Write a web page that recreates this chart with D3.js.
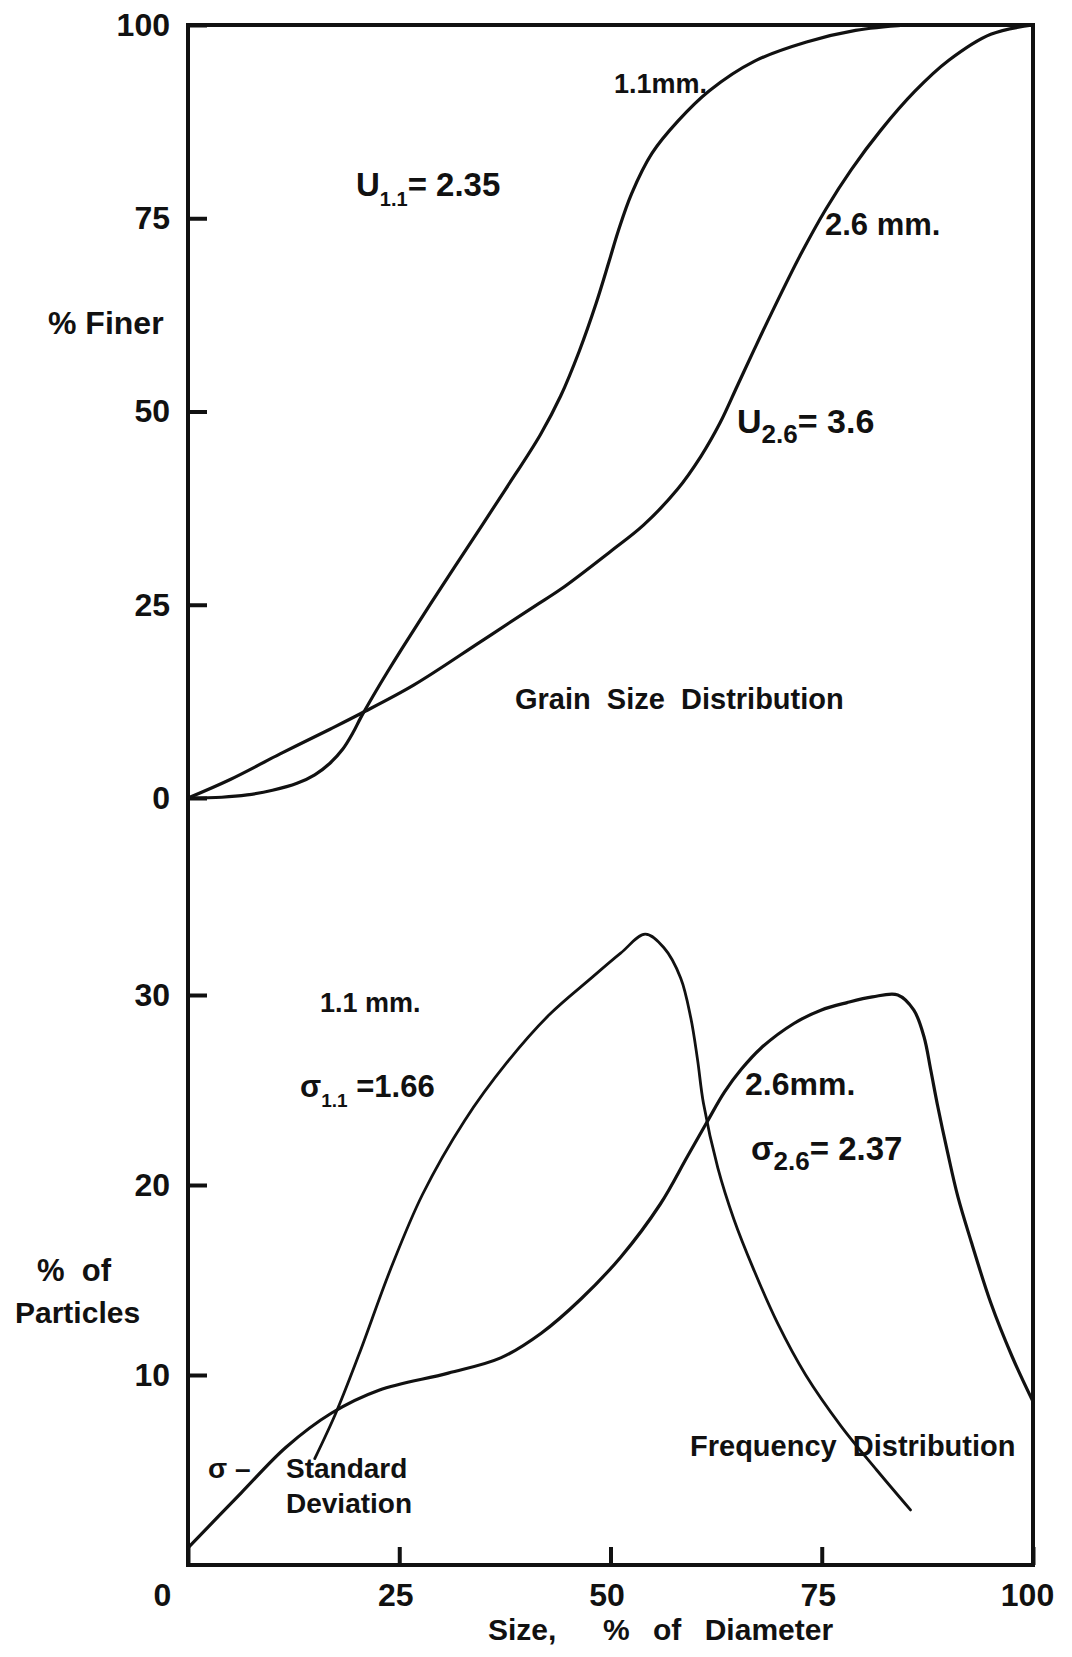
<!DOCTYPE html>
<html>
<head>
<meta charset="utf-8">
<script src="https://cdn.jsdelivr.net/npm/d3@7"></script>
<style>
  html, body { margin: 0; padding: 0; background: #fff; }
  svg text { font-family: "Liberation Sans", Arial, sans-serif; font-weight: bold; fill: #111; }
</style>
</head>
<body>
<svg id="chart" width="1072" height="1657"></svg>
<script>
// Cumulative grain size distribution, % finer vs size (% of diameter)
const finer11 = [[0,0],[4,0.1],[7,0.4],[10,1.0],[12.9,1.9],[15,3.0],[16.8,4.5],[18.3,6.3],[19.5,8.4],
  [20.4,10.3],[21.8,13.0],[23.6,16.3],[25.3,19.3],[28.7,25.1],[31.5,29.8],[37.5,39.8],[41.7,47.0],
  [44.1,52.0],[46.3,57.8],[48.3,64.0],[49.8,69.3],[50.9,73.3],[52.5,78.2],[54.9,83.4],[58,87.6],
  [61.7,91.5],[67,95.3],[73.2,97.8],[79,99.3],[85,100]];
const finer26 = [[0,0],[5,2.4],[10.9,5.7],[16.8,8.9],[20.4,10.9],[26.7,14.6],[34.6,20.2],[41,24.8],
  [44.1,27.0],[50,31.9],[53.9,35.3],[57.9,39.9],[60.7,44.2],[63,48.6],[65,53.3],[67,58],[69,62.6],
  [72.5,70.3],[75.5,76.2],[78.5,81.3],[82,86.4],[86,91.4],[90,95.4],[95,98.8],[100,100]];

// Frequency distribution, % of particles vs size
const freq11 = [[15,5.6],[17.5,8.0],[20.25,11.1],[24,15.6],[27.75,19.5],[32.75,23.4],[37.75,26.45],
  [42.75,28.96],[47.75,30.9],[51.2,32.2],[54.1,33.2],[56.3,32.5],[58.3,30.9],[59.5,28.8],[60.3,26.6],
  [61.0,24.3],[62.7,20.9],[64.6,18.2],[66.9,15.6],[69.8,12.7],[73.1,10.0],[77.3,7.3],[81.5,5.0],[85.5,2.9]];
const freq26 = [[0,0.9],[6.3,3.8],[11.6,6.2],[17,8.0],[22.6,9.2],[30.8,10.1],[37,10.9],[41.8,12.2],
  [46.5,14.0],[51.2,16.2],[55.9,19.0],[59.1,21.5],[61.4,23.3],[63.5,24.9],[65.5,26.1],[67.8,27.2],
  [71.7,28.5],[74.9,29.2],[78,29.6],[81,29.9],[84,30.0],[85.9,29.2],[87.1,27.8],[87.9,26.05],
  [88.7,24.2],[89.9,21.7],[91.1,19.4],[92.7,17.0],[95,13.8],[97.5,11.0],[100,8.6]];

const finerTicks = [0, 25, 50, 75, 100];
const freqTicks = [10, 20, 30];
const sizeTicks = [0, 25, 50, 75, 100];

const svg = d3.select("#chart");

const x = d3.scaleLinear().domain([0, 100]).range([188, 1033]);
const yTop = d3.scaleLinear().domain([0, 100]).range([798, 25]);
const yBot = d3.scaleLinear().domain([0, 30]).range([1565, 995]);

// Frame: left and right edges run the full height of both panels
svg.append("path")
  .attr("d", `M${x(0)},${yTop(100)}H${x(100)}V${yBot(0)}H${x(0)}Z`)
  .attr("fill", "none").attr("stroke", "#111").attr("stroke-width", 4)
  .attr("stroke-linejoin", "miter");

function styleAxis(g) {
  g.select(".domain").remove();
  g.selectAll(".tick line").attr("stroke", "#111").attr("stroke-width", 4);
  g.selectAll(".tick text").attr("fill", "#111")
    .style("font-size", "32px").style("font-family", "'Liberation Sans', Arial, sans-serif")
    .style("font-weight", "bold");
}

svg.append("g").attr("transform", `translate(${x(0)},0)`)
  .call(d3.axisLeft(yTop).tickValues(finerTicks).tickSizeInner(-19).tickSizeOuter(0).tickPadding(18))
  .call(styleAxis);

svg.append("g").attr("transform", `translate(${x(0)},0)`)
  .call(d3.axisLeft(yBot).tickValues(freqTicks).tickSizeInner(-19).tickSizeOuter(0).tickPadding(18))
  .call(styleAxis);

const xAxis = svg.append("g").attr("transform", `translate(0,${yBot(0)})`)
  .call(d3.axisBottom(x).tickValues(sizeTicks).tickSizeInner(-18).tickSizeOuter(0).tickPadding(18))
  .call(styleAxis);
xAxis.selectAll(".tick text").attr("dx", d => d === 0 ? -26 : (d === 100 ? -6 : -4));

// Curves
const curve = d3.curveCatmullRom.alpha(0.5);
const lineTop = d3.line().x(d => x(d[0])).y(d => yTop(d[1])).curve(curve);
const lineBot = d3.line().x(d => x(d[0])).y(d => yBot(d[1])).curve(curve);

[finer11, finer26].forEach(s => svg.append("path").attr("d", lineTop(s))
  .attr("fill", "none").attr("stroke", "#111").attr("stroke-width", 3.2).attr("stroke-linecap", "round"));
[[freq11, 2.8], [freq26, 3.2]].forEach(([s, w]) => svg.append("path").attr("d", lineBot(s))
  .attr("fill", "none").attr("stroke", "#111").attr("stroke-width", w).attr("stroke-linecap", "round"));

// Labels
function label(xp, yp, size, text) {
  return svg.append("text").attr("x", xp).attr("y", yp).style("font-size", size + "px")
    .attr("xml:space", "preserve").text(text);
}
function subLabel(xp, yp, size, main, sub, subSize, rest, drop) {
  const t = svg.append("text").attr("x", xp).attr("y", yp).style("font-size", size + "px")
    .attr("xml:space", "preserve");
  t.append("tspan").text(main);
  t.append("tspan").attr("dy", drop).style("font-size", subSize + "px").text(sub);
  t.append("tspan").attr("dy", -drop).text(rest);
  return t;
}

label(48, 334, 32, "% Finer");
subLabel(356, 196, 33, "U", "1.1", 20, "= 2.35", 10);
label(614, 93, 27, "1.1mm.");
label(825, 235, 31, "2.6 mm.");
subLabel(737, 433, 34, "U", "2.6", 26, "= 3.6", 10);
label(515, 709, 29, "Grain  Size  Distribution");

label(320, 1012, 27, "1.1 mm.");
subLabel(300, 1097, 31, "σ", "1.1", 19, " =1.66", 10);
label(745, 1095, 32, "2.6mm.");
subLabel(751, 1160, 33, "σ", "2.6", 26, "= 2.37", 10);

label(37, 1281, 31, "%  of");
label(15, 1323, 30, "Particles");
label(208, 1478, 28, "σ –");
label(286, 1478, 28, "Standard");
label(286, 1513, 28, "Deviation");
label(690, 1456, 29, "Frequency  Distribution");

svg.append("text").attr("x", 488).attr("y", 1640).style("font-size", "30px")
  .style("word-spacing", "15px").attr("xml:space", "preserve").text("Size,  % of Diameter");
</script>
</body>
</html>
